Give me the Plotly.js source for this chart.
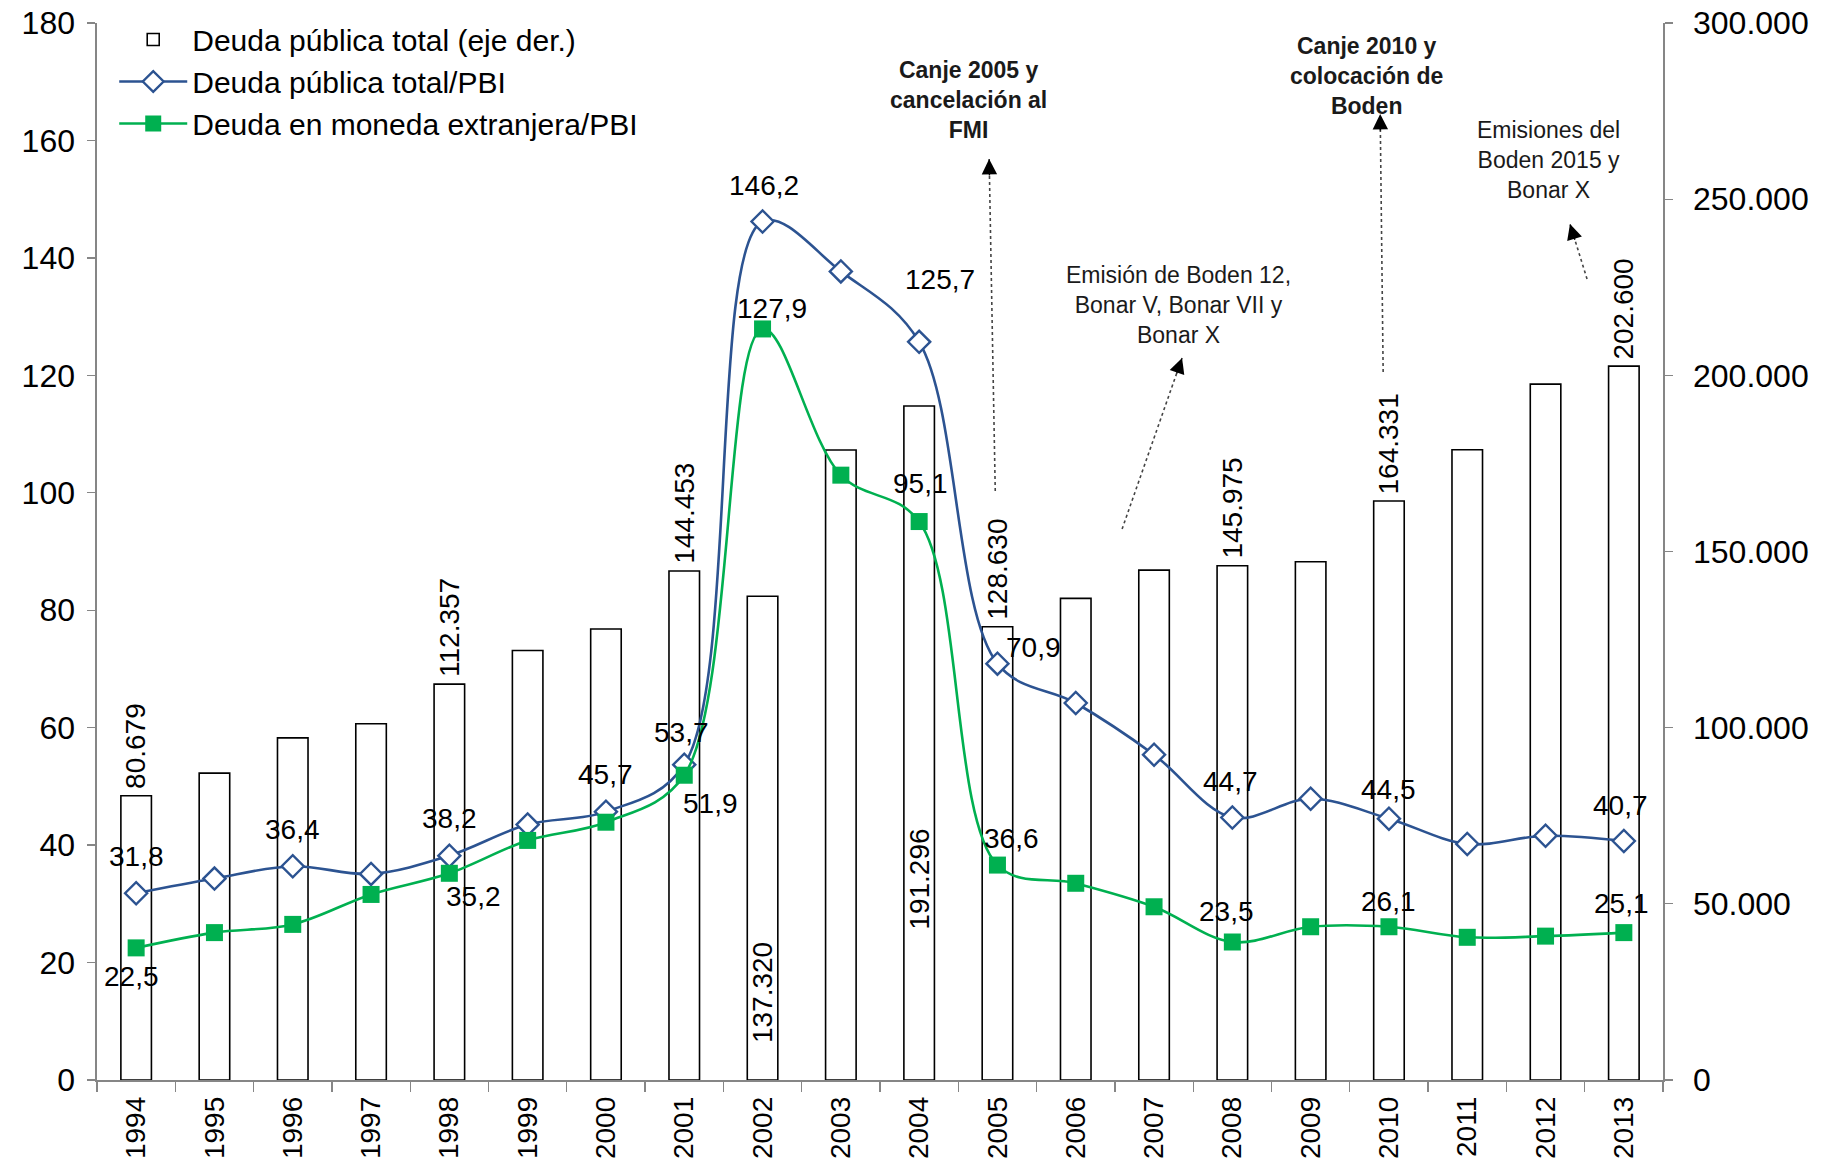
<!DOCTYPE html>
<html>
<head>
<meta charset="utf-8">
<script src="https://cdn.plot.ly/plotly-3.0.1.min.js"></script>
<style>
html,body{margin:0;padding:0;background:#ffffff;}
#chart{width:1823px;height:1165px;}
</style>
</head>
<body>
<div id="chart"></div>
<script>
// ---------------- DATA ----------------
const years = ['1994','1995','1996','1997','1998','1999','2000','2001','2002','2003',
               '2004','2005','2006','2007','2008','2009','2010','2011','2012','2013'];
// Deuda pública total (millones de USD, eje derecho)
const deudaTotal = [80679, 87100, 97100, 101100, 112357, 121900, 128000, 144453, 137320, 178800,
                    191296, 128630, 136700, 144700, 145975, 147100, 164331, 178900, 197500, 202600];
// Deuda pública total / PBI (%)
const deudaTotalPBI = [31.8, 34.3, 36.4, 35.1, 38.2, 43.5, 45.7, 53.7, 146.2, 137.7,
                       125.7, 70.9, 64.2, 55.4, 44.7, 47.9, 44.5, 40.2, 41.6, 40.7];
// Deuda en moneda extranjera / PBI (%)
const deudaMEPBI = [22.5, 25.1, 26.5, 31.6, 35.2, 40.8, 43.9, 51.9, 127.9, 103.0,
                    95.1, 36.6, 33.5, 29.5, 23.5, 26.1, 26.1, 24.3, 24.5, 25.1];

const seriesNames = ['Deuda pública total (eje der.)', 'Deuda pública total/PBI', 'Deuda en moneda extranjera/PBI'];

// years that carry a value label
const barLabelYears = ['1994','1998','2001','2005','2008','2010','2013'];
const barInsideLabelYears = ['2002','2004'];
const totalLabelYears = ['1994','1996','1998','2000','2001','2002','2004','2005','2008','2010','2013'];
const meLabelYears = ['1994','1998','2001','2002','2004','2005','2008','2010','2013'];

// note texts
const noteTexts = [
  '<b>Canje 2005 y<br>cancelación al<br>FMI</b>',
  '<b>Canje 2010 y<br>colocación de<br>Boden</b>',
  'Emisión de Boden 12,<br>Bonar V, Bonar VII y<br>Bonar X',
  'Emisiones del<br>Boden 2015 y<br>Bonar X'
];

// ---------------- STYLE / PLACEMENT ----------------
const FONT = 'Liberation Sans, Arial, sans-serif';
const AXIS_GRAY = '#868686';
const BLUE = '#2C5391';
const GREEN = '#00B050';

// label offsets in pixels [xshift, yshift]
const totalLabelShift = {
  '1994':[0,37],'1996':[0,37],'1998':[0,37],'2000':[0,37],'2001':[-3,32],'2002':[1,36],
  '2004':[21,62],'2005':[36,16],'2008':[-2,36],'2010':[0,29],'2013':[-3,36]
};
const meLabelShift = {
  '1994':[-5,-29],'1998':[24,-23],'2001':[26,-28],'2002':[9,20],'2004':[1,38],
  '2005':[14,27],'2008':[-6,31],'2010':[0,25],'2013':[-2,29]
};
const barInsideShift = {'2002':35, '2004':148};

// note positions (paper)
const notePos = [[0.5563,0.9272],[0.8104,0.9499],[0.6904,0.7332],[0.9266,0.8704]];
// arrows: [tailX, tailY, tipX, tipY] in paper coords
const arrows = [
  [0.5736,0.5572,0.5697,0.8713],
  [0.8213,0.6698,0.8194,0.9139],
  [0.6546,0.5213,0.6929,0.6831],
  [0.9515,0.7578,0.9406,0.8098]
];

// ---------------- HELPERS ----------------
const fmtPct = v => v.toFixed(1).replace('.', ',');
const fmtMil = v => String(v).replace(/\B(?=(\d{3})+(?!\d))/g, '.');
const idx = yr => years.indexOf(yr);

// ---------------- TRACES ----------------
const traceBars = {
  type:'bar', name:seriesNames[0], x:years, y:deudaTotal, yaxis:'y',
  width:0.39,
  marker:{color:'#ffffff', line:{color:'#000000', width:1.6}},
  hoverinfo:'x+y'
};
const traceTotal = {
  type:'scatter', mode:'lines+markers', name:seriesNames[1], x:years, y:deudaTotalPBI, yaxis:'y2',
  line:{color:BLUE, width:2.6, shape:'spline', smoothing:1},
  marker:{symbol:'diamond', size:17, color:'#ffffff', line:{color:BLUE, width:2.4}}
};
const traceME = {
  type:'scatter', mode:'lines+markers', name:seriesNames[2], x:years, y:deudaMEPBI, yaxis:'y2',
  line:{color:GREEN, width:2.6, shape:'spline', smoothing:1},
  marker:{symbol:'square', size:17, color:GREEN, line:{color:GREEN, width:0}}
};

// ---------------- ANNOTATIONS ----------------
const annotations = [];
const labFont = {family:FONT, size:28, color:'#000'};
totalLabelYears.forEach(yr => {
  const s = totalLabelShift[yr] || [0,36];
  annotations.push({xref:'x', yref:'y2', x:idx(yr), y:deudaTotalPBI[idx(yr)], text:fmtPct(deudaTotalPBI[idx(yr)]),
    showarrow:false, xshift:s[0], yshift:s[1], font:labFont});
});
meLabelYears.forEach(yr => {
  const s = meLabelShift[yr] || [0,30];
  annotations.push({xref:'x', yref:'y2', x:idx(yr), y:deudaMEPBI[idx(yr)], text:fmtPct(deudaMEPBI[idx(yr)]),
    showarrow:false, xshift:s[0], yshift:s[1], font:labFont});
});
barLabelYears.forEach(yr => {
  annotations.push({xref:'x', yref:'y', x:idx(yr), y:deudaTotal[idx(yr)], text:fmtMil(deudaTotal[idx(yr)]),
    showarrow:false, textangle:-90, yanchor:'bottom', yshift:5, font:labFont});
});
barInsideLabelYears.forEach(yr => {
  annotations.push({xref:'x', yref:'y', x:idx(yr), y:0, text:fmtMil(deudaTotal[idx(yr)]),
    showarrow:false, textangle:-90, yanchor:'bottom', yshift:barInsideShift[yr], font:labFont});
});
noteTexts.forEach((t, i) => {
  annotations.push({xref:'paper', yref:'paper', x:notePos[i][0], y:notePos[i][1], text:t,
    showarrow:false, align:'center', xanchor:'center', yanchor:'middle',
    font:{family:FONT, size:23, color:'#1a1a1a'}});
});
// arrows: dotted shaft (shape) + arrow head (annotation)
const shapes = [];
const W = 1566, H = 1057;
arrows.forEach(a => {
  const dxp = (a[0]-a[2])*W, dyp = -(a[1]-a[3])*H;
  const L = Math.sqrt(dxp*dxp + dyp*dyp);
  annotations.push({xref:'paper', yref:'paper', x:a[2], y:a[3], text:'', showarrow:true,
    ax:dxp/L*18, ay:dyp/L*18, arrowhead:2, arrowsize:2.2, arrowwidth:1.4, arrowcolor:'#000', standoff:0});
  shapes.push({type:'line', xref:'paper', yref:'paper', x0:a[0], y0:a[1], x1:a[2], y1:a[3],
    line:{color:'#444', width:1.6, dash:'dot'}});
});

// ---------------- LAYOUT ----------------
const layout = {
  width:1823, height:1165,
  margin:{l:97, r:160, t:23, b:85, pad:0, autoexpand:false},
  paper_bgcolor:'#ffffff', plot_bgcolor:'#ffffff',
  font:{family:FONT, color:'#000'},
  separators:',.',
  showlegend:true,
  legend:{x:0.011, y:1.009, xanchor:'left', yanchor:'top', bgcolor:'rgba(255,255,255,0)',
          font:{family:FONT, size:30, color:'#000'}, itemwidth:68, tracegroupgap:0, traceorder:'normal'},
  xaxis:{type:'category', range:[-0.5,19.5], tickangle:-90, ticks:'outside', tickson:'boundaries',
         ticklen:10, tickwidth:1.3, tickcolor:AXIS_GRAY, showline:true, linecolor:AXIS_GRAY, linewidth:1.6,
         showgrid:false, zeroline:false, tickfont:{family:FONT, size:28, color:'#000'}, automargin:false,
         ticklabelstandoff:4},
  yaxis:{side:'right', range:[0,300000], dtick:50000, tickformat:',d', ticks:'outside', ticklen:8,
         tickwidth:1.3, tickcolor:AXIS_GRAY, showline:true, linecolor:AXIS_GRAY, linewidth:1.6,
         showgrid:false, zeroline:false, tickfont:{family:FONT, size:32, color:'#000'}, automargin:false,
         ticklabelstandoff:14},
  yaxis2:{overlaying:'y', side:'left', range:[0,180], dtick:20, ticks:'outside', ticklen:8,
          tickwidth:1.3, tickcolor:AXIS_GRAY, showline:true, linecolor:AXIS_GRAY, linewidth:1.6,
          showgrid:false, zeroline:false, tickfont:{family:FONT, size:32, color:'#000'}, automargin:false,
          ticklabelstandoff:6},
  annotations:annotations,
  shapes:shapes
};

Plotly.newPlot('chart', [traceBars, traceTotal, traceME], layout, {displayModeBar:false, staticPlot:true});
</script>
</body>
</html>
